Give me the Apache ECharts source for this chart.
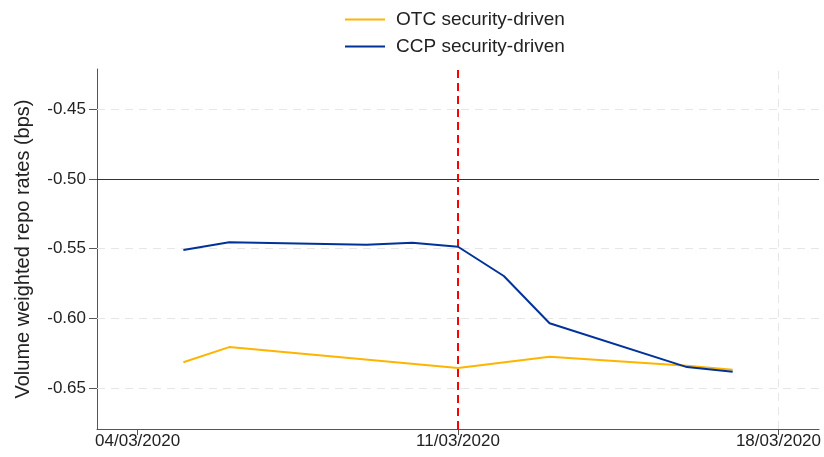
<!DOCTYPE html>
<html>
<head>
<meta charset="utf-8">
<script src="https://cdn.jsdelivr.net/npm/echarts@6/dist/echarts.min.js"></script>
<style>
  html, body { margin: 0; padding: 0; background: #fff; }
  #chart { width: 824px; height: 457px; }
</style>
</head>
<body>
<div id="chart"></div>
<script>
// Trading days (dd/mm/yyyy) and volume weighted repo rates
var dates = ['05/03/2020', '06/03/2020', '09/03/2020', '10/03/2020', '11/03/2020',
             '12/03/2020', '13/03/2020', '16/03/2020', '17/03/2020'];
var otcRates = [-0.6312, -0.6204, null, null, -0.6354, null, -0.6273, -0.6338, -0.6366];
var ccpRates = [-0.5509, -0.5454, -0.5471, -0.5457, -0.5486, -0.5695, -0.6033, -0.6347, -0.6381];

var xTickDates = ['04/03/2020', '11/03/2020', '18/03/2020'];
var yTicks = [-0.65, -0.60, -0.55, -0.50, -0.45];
var yGridLines = [-0.65, -0.60, -0.55, -0.45];
var referenceRate = -0.50;
var eventDate = '11/03/2020';

var seriesNames = ['OTC security-driven', 'CCP security-driven'];

// Dates are placed on a numeric axis as UTC millisecond timestamps
function toTime(s) {
  var p = s.split('/');
  return Date.UTC(+p[2], +p[1] - 1, +p[0]);
}
function fmt(t) {
  var d = new Date(t);
  var dd = String(d.getUTCDate()).padStart(2, '0');
  var mm = String(d.getUTCMonth() + 1).padStart(2, '0');
  return dd + '/' + mm + '/' + d.getUTCFullYear();
}

var DAY = 86400000;
var xTicks = xTickDates.map(toTime);
var xMin = xTicks[0] - 0.887 * DAY;
var xMax = xTicks[xTicks.length - 1] + 0.887 * DAY;

function pairs(vals) {
  return dates.map(function (d, i) { return [toTime(d), vals[i]]; });
}

var chart = echarts.init(document.getElementById('chart'), null, { renderer: 'canvas' });

var font = 'Liberation Sans, Arial, sans-serif';

chart.setOption({
  animation: false,
  backgroundColor: '#fff',
  textStyle: { fontFamily: font },
  legend: {
    orient: 'vertical',
    left: 345,
    top: 10,
    padding: 0,
    icon: 'rect',
    itemWidth: 40,
    itemHeight: 2,
    itemGap: 8,
    data: seriesNames,
    textStyle: { fontSize: 19, lineHeight: 19, color: '#222', fontFamily: font, padding: [0, 0, 0, 6] }
  },
  grid: { left: 97, right: 3, top: 69, bottom: 28, containLabel: false },
  xAxis: {
    type: 'value',
    min: xMin,
    max: xMax,
    scale: true,
    axisLine: { show: true, onZero: false, lineStyle: { color: '#555', width: 1 } },
    axisTick: { show: true, length: 6, customValues: xTicks, lineStyle: { color: '#555' } },
    axisLabel: {
      customValues: xTicks,
      formatter: function (v) { return fmt(v); },
      fontSize: 17, color: '#222', margin: 4, fontFamily: font
    },
    splitLine: { show: false }
  },
  yAxis: {
    type: 'value',
    min: -0.679,
    max: -0.4214,
    scale: true,
    name: 'Volume weighted repo rates (bps)',
    nameLocation: 'middle',
    nameGap: 64,
    nameTextStyle: { fontSize: 20, color: '#222', fontFamily: font },
    axisLine: { show: true, onZero: false, lineStyle: { color: '#555', width: 1 } },
    axisTick: { show: true, length: 8, customValues: yTicks, lineStyle: { color: '#555' } },
    axisLabel: {
      customValues: yTicks,
      formatter: function (v) { return v.toFixed(2); },
      fontSize: 17, color: '#222', margin: 11, fontFamily: font
    },
    splitLine: { show: false }
  },
  series: [
    {
      name: seriesNames[0],
      type: 'line',
      data: pairs(otcRates),
      connectNulls: true,
      symbol: 'none',
      z: 5,
      lineStyle: { color: '#FFB400', width: 2 },
      itemStyle: { color: '#FFB400' },
      markLine: {
        silent: true,
        symbol: 'none',
        label: { show: false },
        z: 1,
        data: yGridLines.map(function (v) {
          return { yAxis: v, lineStyle: { color: '#e6e6e6', width: 1, type: [8, 6] } };
        }).concat([
          { xAxis: xTicks[xTicks.length - 1], lineStyle: { color: '#e6e6e6', width: 1, type: [8, 6] } },
          { yAxis: referenceRate, lineStyle: { color: '#333', width: 1, type: 'solid' } }
        ])
      }
    },
    {
      name: seriesNames[1],
      type: 'line',
      data: pairs(ccpRates),
      symbol: 'none',
      z: 6,
      lineStyle: { color: '#003299', width: 2 },
      itemStyle: { color: '#003299' },
      markLine: {
        silent: true,
        symbol: 'none',
        label: { show: false },
        data: [
          { xAxis: toTime(eventDate), lineStyle: { color: '#ff0000', width: 2, type: [8, 5] } }
        ]
      }
    }
  ]
});
</script>
</body>
</html>
